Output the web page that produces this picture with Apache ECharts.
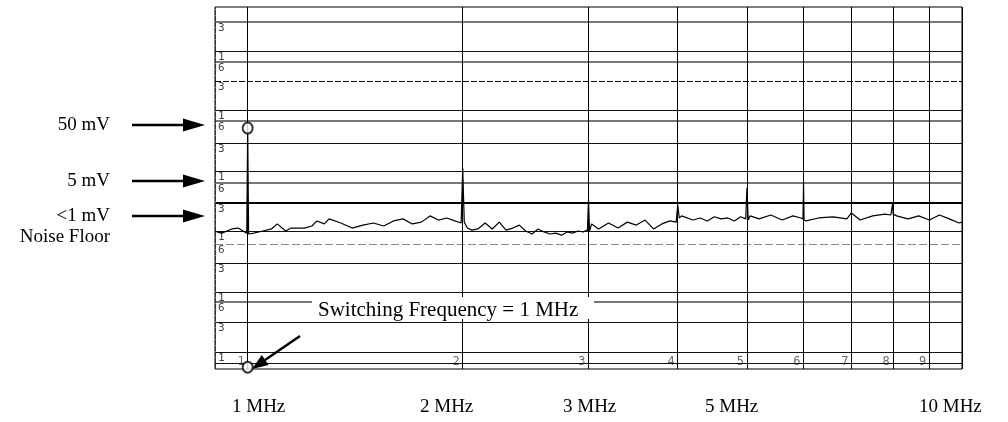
<!DOCTYPE html>
<html>
<head>
<meta charset="utf-8">
<script src="https://cdn.jsdelivr.net/npm/echarts@6/dist/echarts.min.js"></script>
<style>
  html, body { margin: 0; padding: 0; background: #fff; }
  #chart { width: 1008px; height: 422px; }
</style>
</head>
<body>
<div id="chart"></div>
<script>
// spectrum trace, frequency in MHz, level in dBmV
const freqMHz = [
  0.905, 0.92, 0.95, 0.97, 0.99, 0.997, 1.0, 1.003, 1.02, 1.05,
  1.08, 1.1, 1.13, 1.15, 1.2, 1.23, 1.25, 1.28, 1.3, 1.35,
  1.4, 1.45, 1.5, 1.55, 1.6, 1.65, 1.7, 1.75, 1.8, 1.85,
  1.9, 1.95, 1.99, 2.0, 2.01, 2.03, 2.06, 2.1, 2.15, 2.2,
  2.25, 2.3, 2.35, 2.4, 2.45, 2.5, 2.55, 2.6, 2.65, 2.7,
  2.75, 2.8, 2.85, 2.9, 2.95, 2.99, 3.0, 3.01, 3.03, 3.1,
  3.2, 3.3, 3.4, 3.5, 3.6, 3.7, 3.8, 3.9, 3.98, 4.0,
  4.02, 4.05, 4.2, 4.3, 4.4, 4.5, 4.6, 4.7, 4.8, 4.9,
  4.98, 5.0, 5.02, 5.05, 5.2, 5.4, 5.6, 5.8, 5.95, 5.99,
  6.0, 6.01, 6.05, 6.3, 6.6, 6.9, 7.0, 7.2, 7.5, 7.8,
  7.95, 7.99, 8.0, 8.01, 8.1, 8.4, 8.7, 9.0, 9.3, 9.6,
  9.9, 10
];
const levelDbmV = [
  -3.8, -4.2, -2.8, -2.5, -3.8, -4.2, 31.2, -4.5, -4.2, -3.5,
  -2.8, -1.1, -3.5, -2.5, -2.5, -1.8, -0.1, -1.1, 0.6, -0.8,
  -2.5, -1.5, -0.8, -1.8, -0.1, 0.6, -1.1, -0.5, 1.6, 0.2,
  0.9, -0.1, -0.8, 17.7, -0.5, -2.5, -3.2, -2.8, -0.8, -2.8,
  -0.5, -3.2, -2.5, -1.5, -3.5, -4.5, -2.8, -3.8, -4.5, -4.2,
  -4.9, -3.8, -4.2, -3.5, -3.8, -3.2, 7.0, -3.5, -1.1, -2.8,
  -0.8, -2.5, -0.5, -1.5, 0.2, -2.8, -1.1, -0.1, -0.5, 5.3,
  0.9, 1.6, 0.2, 0.9, -0.1, 1.3, 0.6, 0.9, -0.1, 1.3,
  0.6, 11.0, 0.2, 1.6, 0.6, 1.9, 0.2, 1.6, 0.9, 0.6,
  12.7, 0.2, -0.1, 0.9, 1.3, 0.6, 2.6, 0.2, 1.6, 2.2,
  1.9, 2.2, 6.0, 2.2, 1.6, 0.6, 1.6, 0.2, 1.9, 0.6,
  -0.8, -0.5
];

// log-paper rulings
const rulingLevels = [66.9, 57.2, 53.5, 47.1, 37.3, 33.6, 26.2, 16.7, 12.7, 6.0, -3.5, -7.9, -14.3, -24.0, -27.4, -34.2, -44.3, -48.0];
const rulingMarks = ['3', '1', '6', '3', '1', '6', '3', '1', '6', '3', '1', '6', '3', '1', '6', '3', '1', ''];
const gridFreqs = [0.9, 1, 2, 3, 4, 5, 6, 7, 8, 9, 10];
const digitFreqs = [1, 2, 3, 4, 5, 6, 7, 8, 9];
const digitLevel = -47.6;
const circleFreqs = [1, 1];
const circleLevels = [31.2, -49.4];

const bottomLabels = ['1 MHz', '2 MHz', '3 MHz', '5 MHz', '10 MHz'];
const bottomLabelX = [232, 420, 563, 705, 919];
const sideLabels = ['50 mV', '5 mV', '<1 mV'];
const sideLabelY = [125, 181, 216];
const note = 'Switching Frequency = 1 MHz';

const serif = '"Liberation Serif", "DejaVu Serif", serif';

function rulingStyle(i) {
  const lv = rulingLevels[i];
  if (lv === 6.0) return { color: '#000', width: 2, type: 'solid' };
  if (lv === 47.1) return { color: '#000', width: 1, type: [6, 2] };
  if (lv === -7.9) return { color: '#888', width: 1, type: [8, 3] };
  if (rulingMarks[i] === '6' || lv === 66.9) return { color: '#777', width: 2, type: 'solid' };
  return { color: '#111', width: 1, type: 'solid' };
}

const chart = echarts.init(document.getElementById('chart'), null, { renderer: 'canvas' });

function setOption() {
  const arrows = [];
  sideLabels.forEach((t, i) => {
    const y = sideLabelY[i];
    arrows.push({ type: 'text', style: { text: t, x: 110, y: y, align: 'right', verticalAlign: 'middle', font: '19px ' + serif, fill: '#000' } });
    arrows.push({ type: 'line', shape: { x1: 132, y1: y, x2: 188, y2: y }, style: { stroke: '#000', lineWidth: 2.5 } });
    arrows.push({ type: 'polygon', shape: { points: [[183, y - 6.5], [205, y], [183, y + 6.5]] }, style: { fill: '#000' } });
  });
  arrows.push({ type: 'text', style: { text: 'Noise Floor', x: 110, y: 237, align: 'right', verticalAlign: 'middle', font: '19px ' + serif, fill: '#000' } });

  const bottom = bottomLabels.map((t, i) => ({
    type: 'text', style: { text: t, x: bottomLabelX[i], y: 407, align: 'left', verticalAlign: 'middle', font: '19px ' + serif, fill: '#000' }
  }));

  chart.setOption({
    animation: false,
    backgroundColor: '#fff',
    grid: { left: 215, right: 46, top: 7, bottom: 53, show: true, borderColor: '#000', borderWidth: 1, backgroundColor: 'transparent' },
    xAxis: {
      type: 'log', logBase: 10, min: 0.9, max: 10,
      axisLine: { show: false }, axisTick: { show: false }, axisLabel: { show: false }, splitLine: { show: false }
    },
    yAxis: {
      type: 'value', min: -50, max: 72,
      axisLine: { show: false }, axisTick: { show: false }, axisLabel: { show: false }, splitLine: { show: false }
    },
    series: [
      {
        name: 'rulings',
        type: 'line',
        data: [],
        silent: true,
        markLine: {
          symbol: 'none',
          silent: true,
          animation: false,
          data: rulingLevels.map((v, i) => {
            const s = rulingStyle(i);
            return {
              yAxis: v,
              lineStyle: { color: s.color, width: s.width, type: s.type },
              label: {
                show: rulingMarks[i] !== '', formatter: rulingMarks[i], position: 'insideStartBottom',
                distance: [3, 1], color: '#444', fontSize: 11, fontFamily: '"DejaVu Sans Mono", monospace'
              }
            };
          }).concat(gridFreqs.map(f => ({
            xAxis: f,
            lineStyle: { color: f === 0.9 ? '#333' : '#000', width: 1, type: f === 0.9 ? [5, 1] : 'solid' },
            label: { show: false }
          })))
        }
      },
      {
        name: 'digits',
        type: 'scatter',
        symbolSize: 0,
        silent: true,
        data: digitFreqs.map(f => [f, digitLevel]),
        label: {
          show: true, position: 'left', distance: 3,
          formatter: p => String(digitFreqs[p.dataIndex]),
          color: '#444', fontSize: 12, fontFamily: '"DejaVu Sans Mono", monospace'
        }
      },
      {
        name: 'spectrum',
        type: 'line',
        data: freqMHz.map((f, i) => [f, levelDbmV[i]]),
        showSymbol: false,
        smooth: false,
        lineStyle: { color: '#000', width: 1.2 },
        z: 5
      },
      {
        name: 'markers',
        type: 'scatter',
        symbol: 'emptyCircle',
        symbolSize: [10, 11],
        silent: true,
        data: circleFreqs.map((f, i) => [f, circleLevels[i]]),
        itemStyle: { color: '#000', borderColor: '#000', borderWidth: 1 },
        z: 12
      }
    ],
    graphic: arrows.concat(bottom).concat([
      { type: 'rect', shape: { x: 312, y: 297, width: 282, height: 22 }, style: { fill: '#fff' }, z: 10 },
      { type: 'text', style: { text: note, x: 318, y: 310, verticalAlign: 'middle', font: '21px ' + serif, fill: '#000' }, z: 11 },
      { type: 'line', shape: { x1: 300, y1: 336, x2: 265, y2: 360 }, style: { stroke: '#000', lineWidth: 2.5 }, z: 11 },
      { type: 'polygon', shape: { points: [[252, 369], [268.6, 364.9], [261.8, 354.9]] }, style: { fill: '#000' }, z: 11 }
    ])
  });
}
setOption();
</script>
</body>
</html>
